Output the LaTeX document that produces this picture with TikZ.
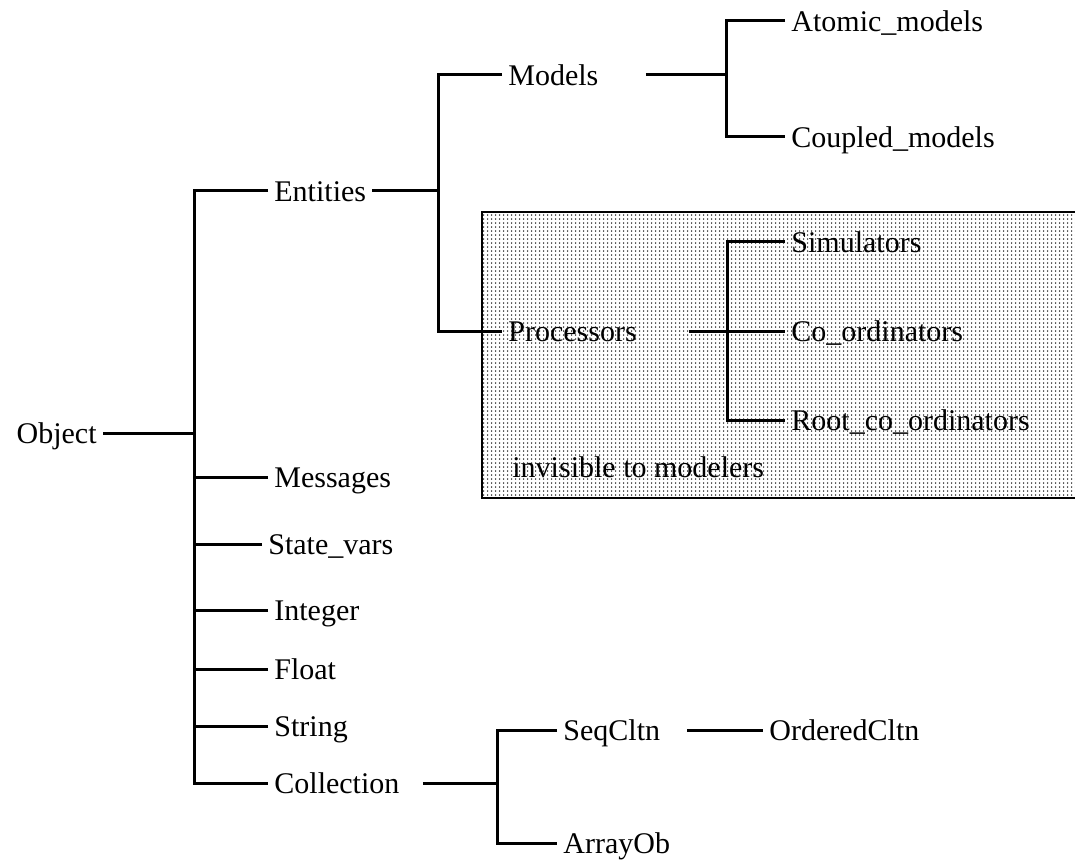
\documentclass[tikz,border=0pt]{standalone}
\usepackage{fontspec}
\setmainfont{Liberation Serif}
\usetikzlibrary{patterns.meta}

\tikzdeclarepattern{
    name = screendots,
    type = uncolored,
    bounding box = {(0,0) and (1.8pt,2.2pt)},
    tile size = {(1.8pt,2.2pt)},
    code = {\fill (0.9pt,1.1pt) circle (0.45pt);}
}

\begin{document}
\begin{tikzpicture}[
            x = 0.5pt, y = -0.5pt,
            every node/.style = {
                anchor = west,
                inner xsep = 3pt,
                inner ysep = 0pt,
                text height = 10.5pt,
                text depth = 0pt,
                font = \fontsize{15}{18}\selectfont
            },
            branch/.style = {
                line width = 1.5pt
            },
            offbranch/.style = {
                branch,
                shorten <= #1
            },
            screen/.style = {
                line width = 0.8pt,
                pattern = screendots
            }
        ]
            \useasboundingbox (0,0) rectangle (1075,861);
            \draw[screen] (482,212) rectangle (1090,498);

            \node (object) [anchor = east] at (103,433) {Object};
            \node (entities) at (268,191) {Entities};
            \node (models) at (502,75) {Models};
            \node (atomic) at (785,21) {Atomic\_models};
            \node (coupled) at (785,137) {Coupled\_models};
            \node (processors) at (502,331) {Processors};
            \node (simulators) at (785,242) {Simulators};
            \node (coord) at (785,331) {Co\_ordinators};
            \node (root) at (785,420) {Root\_co\_ordinators};
            \node (invisible) at (506,467) {invisible to modelers};
            \node (messages) at (268,477) {Messages};
            \node (statevars) at (262,544) {State\_vars};
            \node (integer) at (268,610) {Integer};
            \node (float) at (268,669) {Float};
            \node (string) at (268,726) {String};
            \node (collection) at (268,783) {Collection};
            \node (seqcltn) at (557,730) {SeqCltn};
            \node (orderedcltn) at (763,730) {OrderedCltn};
            \node (arrayob) at (557,843) {ArrayOb};

            \coordinate (objJ) at (194,433);
            \coordinate (entJ) at (438,191);
            \coordinate (modJ) at (726,75);
            \coordinate (procJ) at (727,331);
            \coordinate (collJ) at (497,783);

            \draw[branch] (object) -- (objJ);
            \draw[branch] (entities.west) -| (objJ) |- (collection.west);
            \foreach \leaf in {messages, statevars, integer, float, string}
                \draw[branch] (\leaf.west) -- (\leaf.west -| objJ);

            \draw[branch] (entities) -- (entJ);
            \draw[branch] (models.west) -| (entJ) |- (processors.west);

            \draw[offbranch = 20.5pt] (models.east) -- (modJ);
            \draw[branch] (atomic.west) -| (modJ) |- (coupled.west);

            \draw[offbranch = 23pt] (processors.east) -- (coord.west);
            \draw[branch] (simulators.west) -| (procJ) |- (root.west);

            \draw[offbranch = 8.5pt] (collection.east) -- (collJ);
            \draw[branch] (seqcltn.west) -| (collJ) |- (arrayob.west);
            \draw[offbranch = 10.5pt] (seqcltn.east) -- (orderedcltn.west);
        \end{tikzpicture}
\end{document}
